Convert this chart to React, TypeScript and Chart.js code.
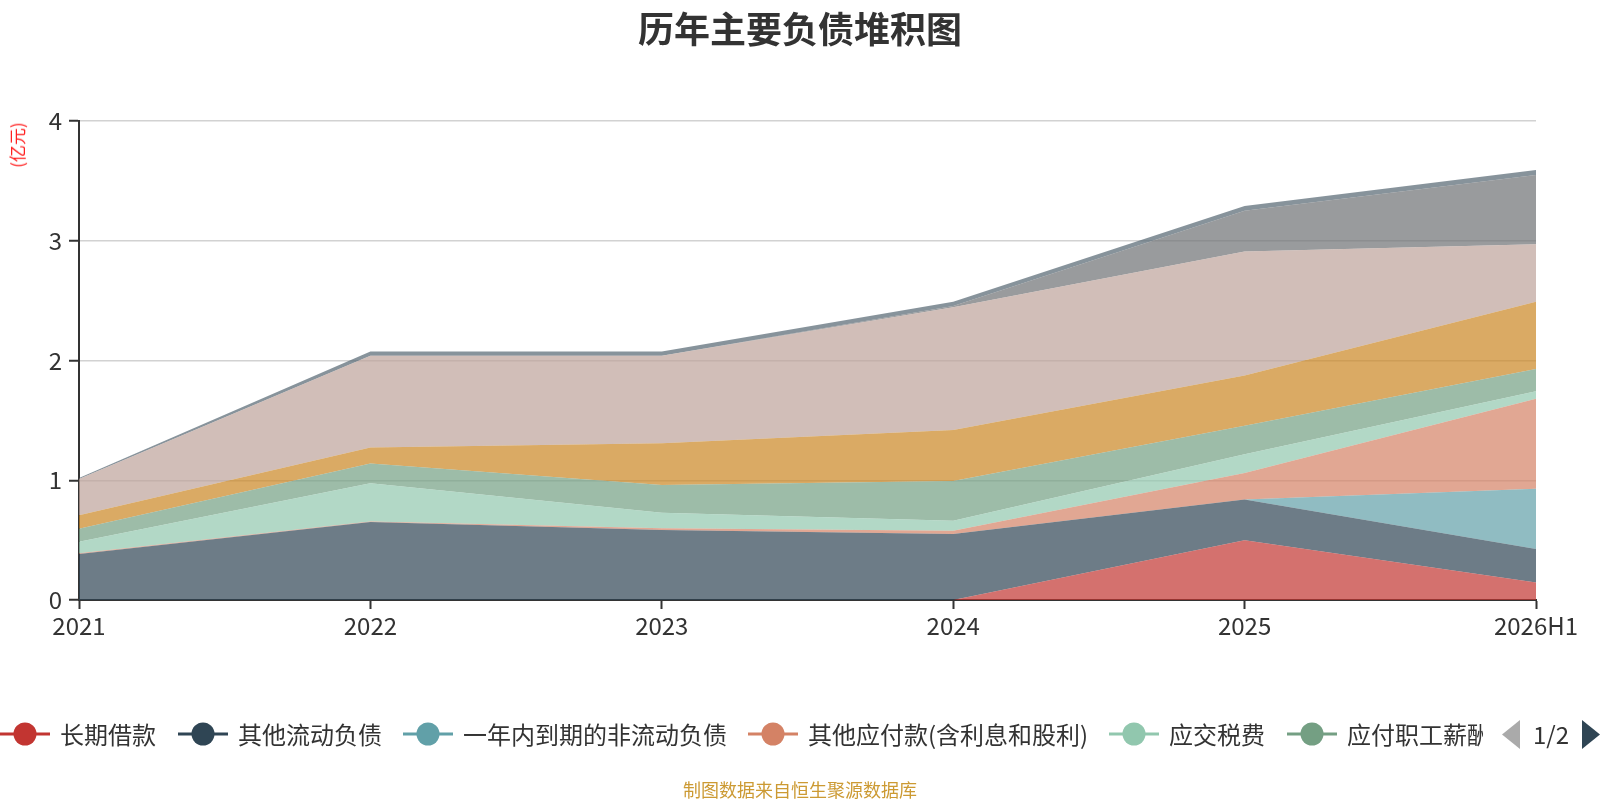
import React, { useEffect, useRef } from "react";
import { Chart, registerables } from "chart.js";

Chart.register(...registerables);

const CATEGORIES = ["2021", "2022", "2023", "2024", "2025", "2026H1"];
const LONG_LOANS = [0, 0, 0, 0, 0.5, 0.147];
const OTHER_CURRENT = [0.384, 0.651, 0.585, 0.551, 0.34, 0.278];
const DUE_WITHIN_YEAR = [0, 0, 0, 0, 0, 0.505];
const OTHER_PAYABLES = [0.006, 0.005, 0.015, 0.028, 0.22, 0.75];
const TAXES = [0.097, 0.318, 0.129, 0.083, 0.157, 0.064];
const SALARIES = [0.108, 0.166, 0.231, 0.332, 0.239, 0.186];
const CONTRACT_LIAB = [0.112, 0.134, 0.348, 0.426, 0.419, 0.56];
const ACCOUNTS_PAYABLE = [0.303, 0.766, 0.732, 1.025, 1.035, 0.48];
const NOTES_PAYABLE = [0, 0, 0, 0.01, 0.34, 0.58];
const LEASE_LIAB = [0.008, 0.035, 0.035, 0.035, 0.04, 0.04];

const SERIES_NAMES = [
  "长期借款",
  "其他流动负债",
  "一年内到期的非流动负债",
  "其他应付款(含利息和股利)",
  "应交税费",
  "应付职工薪酬",
  "合同负债",
  "应付账款",
  "应付票据",
  "租赁负债",
];
const SERIES_DATA = [
  LONG_LOANS,
  OTHER_CURRENT,
  DUE_WITHIN_YEAR,
  OTHER_PAYABLES,
  TAXES,
  SALARIES,
  CONTRACT_LIAB,
  ACCOUNTS_PAYABLE,
  NOTES_PAYABLE,
  LEASE_LIAB,
];
const COLORS = [
  "#c23531",
  "#2f4554",
  "#61a0a8",
  "#d48265",
  "#91c7ae",
  "#749f83",
  "#ca8622",
  "#bda29a",
  "#6e7074",
  "#546570",
];
const Y_TICKS = [0, 1, 2, 3, 4];
const LEGEND_X = [0, 178, 403, 748, 1109, 1287];

const FONT = "'Noto Sans CJK SC', 'Noto Sans', sans-serif";

function hexA(hex: string, a: number) {
  const n = parseInt(hex.slice(1), 16);
  return `rgba(${(n >> 16) & 255},${(n >> 8) & 255},${n & 255},${a})`;
}

export default function App() {
  const ref = useRef<HTMLCanvasElement | null>(null);

  useEffect(() => {
    document.body.style.margin = "0";
    if (!ref.current) return;
    const chart = new Chart(ref.current, {
      type: "line",
      data: {
        labels: CATEGORIES,
        datasets: SERIES_DATA.map((d, i) => ({
          label: SERIES_NAMES[i],
          data: d,
          borderWidth: 0,
          borderColor: "rgba(0,0,0,0)",
          backgroundColor: hexA(COLORS[i], 0.7),
          fill: i === 0 ? "origin" : "-1",
          pointRadius: 0,
          tension: 0,
        })),
      },
      options: {
        animation: false,
        responsive: false,
        devicePixelRatio: 1,
        layout: { padding: { left: 0, right: 64, top: 121, bottom: 0 } },
        plugins: {
          legend: { display: false },
          title: { display: false },
          tooltip: { enabled: false },
        },
        scales: {
          x: {
            type: "category",
            offset: false,
            grid: {
              drawOnChartArea: false,
              drawTicks: true,
              tickLength: 9,
              tickColor: "#333",
              tickWidth: 2,
            },
            border: { color: "#333", width: 2 },
            ticks: {
              color: "#333",
              font: { family: FONT, size: 24 },
              padding: 2,
              maxRotation: 0,
              autoSkip: false,
            },
            afterFit: (s: any) => {
              s.height = 200;
            },
          },
          y: {
            stacked: true,
            min: 0,
            max: 4,
            afterBuildTicks: (s: any) => {
              s.ticks = Y_TICKS.map((v) => ({ value: v }));
            },
            grid: {
              color: "#d2d2d2",
              lineWidth: 1.5,
              drawTicks: true,
              tickLength: 10,
              tickColor: "#333",
              tickWidth: 2,
            },
            border: { color: "#333", width: 2 },
            ticks: {
              color: "#333",
              font: { family: FONT, size: 24 },
              padding: 7,
            },
            afterFit: (s: any) => {
              s.width = 79;
            },
          },
        },
      },
    });
    return () => chart.destroy();
  }, []);

  return (
    <div
      style={{
        position: "fixed",
        left: 0,
        top: 0,
        width: 1600,
        height: 800,
        background: "#fff",
        overflow: "hidden",
        fontFamily: FONT,
      }}
    >
      <canvas ref={ref} width={1600} height={800} style={{ position: "absolute", left: 0, top: 0, width: 1600, height: 800 }} />
      <div
        style={{
          position: "absolute",
          left: 0,
          top: 6,
          width: 1600,
          textAlign: "center",
          fontSize: 36,
          fontWeight: "bold",
          color: "#333",
          lineHeight: "42px",
        }}
      >
        历年主要负债堆积图
      </div>
      <div
        style={{
          position: "absolute",
          left: 16.5,
          top: 145,
          transform: "translate(-50%, -50%) rotate(-90deg)",
          fontSize: 17,
          color: "#ff1f1f",
          whiteSpace: "nowrap",
          lineHeight: "18px",
        }}
      >
        (亿元)
      </div>
      <div style={{ position: "absolute", left: 0, top: 716, width: 1483, height: 36, overflow: "hidden" }}>
        {LEGEND_X.map((x, i) => (
          <div key={i} style={{ position: "absolute", left: x, top: 0, height: 36, display: "flex", alignItems: "center", whiteSpace: "nowrap" }}>
            <svg width={50} height={36} style={{ display: "block" }}>
              <line x1={0} y1={18} x2={50} y2={18} stroke={COLORS[i]} strokeWidth={3} />
              <circle cx={25} cy={18} r={11.5} fill={COLORS[i]} />
            </svg>
            <span style={{ marginLeft: 10, fontSize: 24, color: "#333", lineHeight: "36px" }}>{SERIES_NAMES[i]}</span>
          </div>
        ))}
      </div>
      <svg width={1600} height={800} style={{ position: "absolute", left: 0, top: 0, pointerEvents: "none" }}>
        <polygon points="1520,720 1520,749 1502,734.5" fill="#aaaaaa" />
        <polygon points="1582,720 1582,749 1600,734.5" fill="#2f4554" />
      </svg>
      <div style={{ position: "absolute", left: 1533, top: 716, height: 36, lineHeight: "36px", fontSize: 24, color: "#333" }}>1/2</div>
      <div
        style={{
          position: "absolute",
          left: 0,
          top: 777,
          width: 1600,
          textAlign: "center",
          fontSize: 18,
          color: "#cc9a33",
          lineHeight: "24px",
        }}
      >
        制图数据来自恒生聚源数据库
      </div>
    </div>
  );
}
